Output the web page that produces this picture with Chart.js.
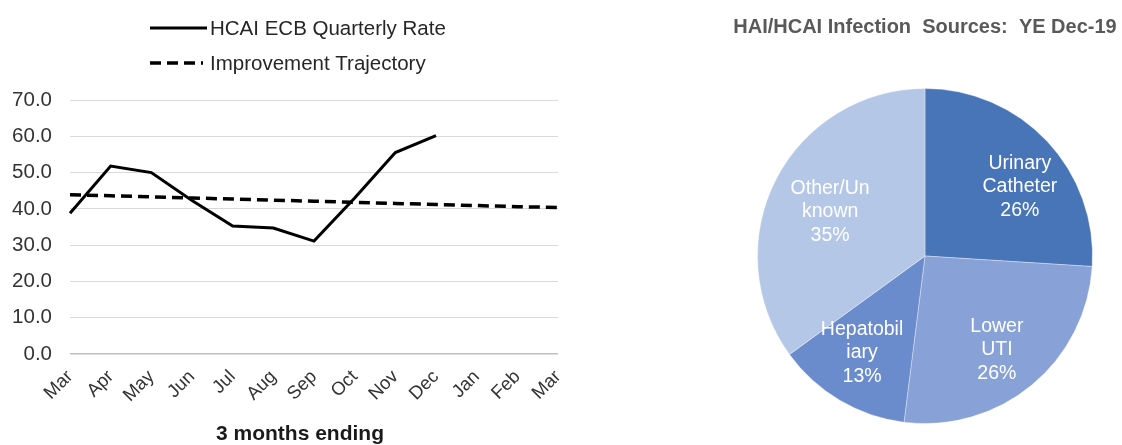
<!DOCTYPE html>
<html>
<head>
<meta charset="utf-8">
<script src="https://cdn.jsdelivr.net/npm/chart.js@4.4.1/dist/chart.umd.min.js"></script>
<style>
  html, body { margin: 0; padding: 0; background: #ffffff; }
  #wrap { position: relative; width: 1122px; height: 445px; overflow: hidden; }
  #lineCanvas { position: absolute; left: 0; top: 0; }
  #pieCanvas { position: absolute; left: 700px; top: 0; }
</style>
</head>
<body>
<div id="wrap">
  <canvas id="lineCanvas" width="565" height="445"></canvas>
  <canvas id="pieCanvas" width="422" height="445"></canvas>
</div>
<script>
// Quarterly HCAI E. coli bacteraemia rate vs improvement trajectory
const months = ['Mar', 'Apr', 'May', 'Jun', 'Jul', 'Aug', 'Sep', 'Oct', 'Nov', 'Dec', 'Jan', 'Feb', 'Mar'];
const quarterlyRate = [38.8, 51.8, 50.0, 42.3, 35.3, 34.7, 31.1, 43.0, 55.5, 60.2, null, null, null];
const trajectory = [43.9, 43.6, 43.3, 43.0, 42.7, 42.4, 42.1, 41.8, 41.5, 41.2, 40.9, 40.6, 40.4];
const yTicks = [0, 10, 20, 30, 40, 50, 60, 70];

// Infection sources, year ending Dec-19
const sourceNames = [['Urinary', 'Catheter'], ['Lower', 'UTI'], ['Hepatobil', 'iary'], ['Other/Un', 'known']];
const sourceShares = [26, 26, 13, 35];
const sourceColours = ['#4874b8', '#88a1d6', '#6a8bcc', '#b5c7e6'];

const FONT = '"Liberation Sans", Arial, sans-serif';

// Stacked legend and axis title drawn around the plot area
const stackedLegend = {
  id: 'stackedLegend',
  afterDraw(chart) {
    const ctx = chart.ctx;
    const rows = [
      { y: 28, x2: 207, ds: chart.data.datasets[0] },
      { y: 63, x2: 203, ds: chart.data.datasets[1] }
    ];
    ctx.save();
    rows.forEach(r => {
      ctx.beginPath();
      ctx.lineWidth = r.ds.borderWidth;
      ctx.strokeStyle = r.ds.borderColor;
      ctx.setLineDash(r.ds.borderDash || []);
      ctx.moveTo(150, r.y);
      ctx.lineTo(r.x2, r.y);
      ctx.stroke();
      ctx.setLineDash([]);
      ctx.fillStyle = '#262626';
      ctx.font = '20.5px ' + FONT;
      ctx.textAlign = 'left';
      ctx.textBaseline = 'middle';
      ctx.fillText(r.ds.label, 210, r.y + 1);
    });
    ctx.font = 'bold 21px ' + FONT;
    ctx.fillStyle = '#1a1a1a';
    ctx.textAlign = 'center';
    ctx.textBaseline = 'middle';
    ctx.fillText('3 months ending', 300, 434);
    ctx.restore();
  }
};

new Chart(document.getElementById('lineCanvas'), {
  type: 'line',
  data: {
    labels: months,
    datasets: [
      {
        label: 'HCAI ECB Quarterly Rate',
        data: quarterlyRate,
        borderColor: '#000000',
        borderWidth: 3,
        pointRadius: 0,
        tension: 0,
        spanGaps: false
      },
      {
        label: 'Improvement Trajectory',
        data: trajectory,
        borderColor: '#000000',
        borderWidth: 3.5,
        borderDash: [11, 6],
        pointRadius: 0,
        tension: 0
      }
    ]
  },
  options: {
    responsive: false,
    animation: false,
    devicePixelRatio: 1,
    layout: { padding: { top: 100, right: 7, left: 0, bottom: 0 } },
    plugins: { legend: { display: false }, tooltip: { enabled: false } },
    scales: {
      x: {
        offset: false,
        grid: { display: false, drawTicks: false },
        border: { display: false },
        ticks: {
          autoSkip: false,
          minRotation: 45,
          maxRotation: 45,
          padding: 12,
          color: '#333333',
          font: { family: FONT, size: 18.5 }
        },
        afterFit(scale) {
          scale.height = 91;
          scale.paddingLeft = 0;
          scale.paddingRight = 0;
        }
      },
      y: {
        min: 0,
        max: 70,
        afterBuildTicks(scale) { scale.ticks = yTicks.map(v => ({ value: v })); },
        grid: {
          drawTicks: false,
          color: ctx => (ctx.tick && ctx.tick.value === 0) ? '#bfbfbf' : '#d9d9d9',
          lineWidth: ctx => (ctx.tick && ctx.tick.value === 0) ? 1.5 : 1
        },
        border: { display: false },
        ticks: {
          padding: 18,
          color: '#333333',
          font: { family: FONT, size: 20.5 },
          callback: v => Number(v).toFixed(1)
        },
        afterFit(scale) {
          scale.width = 70;
          scale.paddingTop = 0;
          scale.paddingBottom = 0;
        }
      }
    }
  },
  plugins: [stackedLegend]
});

// Title and in-slice labels for the pie; each label is nudged
// along its slice (radius fraction, angle offset in degrees)
const labelNudge = [[0.70, 7.2], [0.705, 2.1], [0.69, 2.4], [0.625, -2.0]];

const pieText = {
  id: 'pieText',
  afterDraw(chart) {
    const ctx = chart.ctx;
    ctx.save();
    ctx.font = 'bold 20px ' + FONT;
    ctx.fillStyle = '#595959';
    ctx.textAlign = 'center';
    ctx.textBaseline = 'middle';
    ctx.fillText('HAI/HCAI Infection  Sources:  YE Dec-19', 225, 27);

    const meta = chart.getDatasetMeta(0);
    const total = sourceShares.reduce((a, b) => a + b, 0);
    meta.data.forEach((arc, i) => {
      const p = arc.getProps(['x', 'y', 'startAngle', 'endAngle', 'outerRadius'], true);
      const mid = (p.startAngle + p.endAngle) / 2 + labelNudge[i][1] * Math.PI / 180;
      const r = p.outerRadius * labelNudge[i][0];
      const cx = p.x + Math.cos(mid) * r;
      const cy = p.y + Math.sin(mid) * r;
      const lines = sourceNames[i].concat([Math.round(sourceShares[i] / total * 100) + '%']);
      ctx.fillStyle = '#ffffff';
      ctx.font = '19.5px ' + FONT;
      const lh = 23.5;
      lines.forEach((t, k) => {
        ctx.fillText(t, cx, cy + (k - (lines.length - 1) / 2) * lh);
      });
    });
    ctx.restore();
  }
};

new Chart(document.getElementById('pieCanvas'), {
  type: 'pie',
  data: {
    labels: sourceNames.map(n => n.join('')),
    datasets: [{
      data: sourceShares,
      backgroundColor: sourceColours,
      borderColor: 'rgba(255,255,255,0.35)',
      borderWidth: 1
    }]
  },
  options: {
    responsive: false,
    animation: false,
    devicePixelRatio: 1,
    layout: { padding: { top: 88, left: 57, right: 29, bottom: 21 } },
    plugins: { legend: { display: false }, tooltip: { enabled: false } }
  },
  plugins: [pieText]
});
</script>
</body>
</html>
